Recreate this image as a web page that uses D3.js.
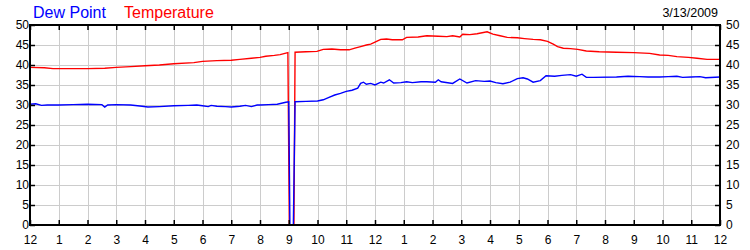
<!DOCTYPE html>
<html>
<head>
<meta charset="utf-8">
<script src="https://cdn.jsdelivr.net/npm/d3@7"></script>
<style>
  body { margin: 0; background: #fff; }
  text { font-family: Arial, "Liberation Sans", sans-serif; }
</style>
</head>
<body>
<div class="chart-container"></div>
<script>
//! DATA (hours after midnight, degrees F)
const tempHours = [0, 0.5, 0.8, 1, 2, 2.6, 3, 3.5, 4, 4.5, 5, 5.7, 6, 6.5, 7, 7.3, 7.7, 8, 8.2, 8.5, 8.7, 8.97,
  9.02, 9.18, 9.22, 9.6, 9.98, 10.2, 10.5, 10.8, 11.1, 11.3, 11.5, 11.7, 11.85, 12, 12.2, 12.4, 12.6, 12.95,
  13.1, 13.5, 13.8, 14.2, 14.5, 14.7, 14.95, 15.05, 15.3, 15.55, 15.9, 16.1, 16.35, 16.6, 16.95, 17.2, 17.5,
  17.75, 18, 18.2, 18.35, 18.55, 18.8, 19.05, 19.35, 19.8, 20.4, 21, 21.55, 21.9, 22.2, 22.5, 22.9, 23.2, 23.55, 24]
const tempValues = [39.4, 39.3, 39.1, 39.1, 39.1, 39.2, 39.4, 39.6, 39.8, 40.0, 40.3, 40.6, 40.9, 41.1, 41.2, 41.4, 41.7, 41.9, 42.2, 42.4, 42.6, 43.1,
  0, 0, 43.2, 43.3, 43.4, 43.9, 44.0, 43.8, 43.8, 44.2, 44.6, 45.0, 45.2, 45.7, 46.4, 46.5, 46.3, 46.3,
  46.9, 47.0, 47.3, 47.2, 47.1, 47.3, 47.0, 47.7, 47.6, 47.8, 48.3, 47.7, 47.3, 46.9, 46.8, 46.6, 46.4,
  46.3, 45.9, 45.2, 44.6, 44.2, 44.1, 43.9, 43.5, 43.3, 43.2, 43.1, 42.9, 42.5, 42.4, 42.1, 41.9, 41.7, 41.4, 41.4]

const dewHours = [0, 0.2, 0.4, 0.6, 1, 1.5, 2, 2.5, 2.6, 2.7, 3, 3.5, 3.9, 4.1, 4.5, 5, 5.5, 5.8, 6, 6.2, 6.3, 6.5,
  6.8, 7, 7.3, 7.5, 7.7, 7.9, 8, 8.3, 8.6, 8.9, 9.0, 9.04, 9.16, 9.22, 9.6, 10, 10.2, 10.4, 10.6, 10.8, 11,
  11.2, 11.4, 11.5, 11.6, 11.7, 11.85, 12, 12.2, 12.3, 12.5, 12.65, 12.9, 13.1, 13.3, 13.6, 13.8, 14.1, 14.2,
  14.3, 14.7, 14.95, 15.2, 15.5, 15.8, 16, 16.2, 16.45, 16.7, 16.95, 17.15, 17.3, 17.5, 17.75, 17.95, 18.25,
  18.5, 18.8, 19, 19.2, 19.35, 19.6, 20.4, 20.8, 21.2, 21.5, 21.9, 22.2, 22.5, 22.7, 23, 23.3, 23.5, 24]
const dewValues = [30.2, 30.3, 29.9, 30.0, 30.0, 30.1, 30.2, 30.1, 29.5, 30.0, 30.1, 30.0, 29.7, 29.5, 29.6, 29.8, 29.9, 30.0, 29.8, 29.6, 29.9, 29.7,
  29.6, 29.5, 29.7, 29.9, 29.6, 30.0, 30.0, 30.1, 30.2, 30.7, 30.8, 0, 0, 30.8, 30.9, 31.0, 31.3, 31.9, 32.5, 32.9, 33.4,
  33.7, 34.2, 35.4, 35.7, 35.2, 35.4, 35.0, 35.7, 35.5, 36.3, 35.5, 35.6, 35.8, 35.6, 35.8, 35.8, 35.7, 36.3,
  35.8, 35.4, 36.5, 35.5, 36.1, 35.9, 36.0, 35.6, 35.3, 35.7, 36.6, 36.8, 36.5, 35.7, 36.1, 37.3, 37.2,
  37.4, 37.6, 37.2, 37.7, 36.9, 36.9, 37.0, 37.2, 37.1, 37.0, 37.0, 37.1, 37.2, 36.9, 37.0, 37.1, 36.8, 37.0]

const hourTicks = d3.range(0, 25)
const valueTicks = d3.range(0, 51, 5)
const hourLabel = h => String(((h + 11) % 12) + 1)

//! CONSTS
const width = 750
const height = 250
const plotLeft = 30, plotRight = 720, plotTop = 25, plotBottom = 225

//! SVG
const svg =
  d3.select('.chart-container')
    .append('svg')
    .attr('width', width)
    .attr('height', height)

//! SCALES
const xScale = d3.scaleLinear().domain([0, 24]).range([plotLeft, plotRight])
const yScale = d3.scaleLinear().domain([0, 50]).range([plotBottom, plotTop])

//! GRID
const grid = svg.append('g').attr('stroke', '#cccccc').attr('stroke-width', 1)
grid.selectAll('.vgrid')
  .data(hourTicks.slice(1, -1))
  .enter().append('line')
  .attr('x1', d => Math.round(xScale(d)) + 0.5).attr('x2', d => Math.round(xScale(d)) + 0.5)
  .attr('y1', plotTop).attr('y2', plotBottom)
grid.selectAll('.hgrid')
  .data(valueTicks.slice(1, -1))
  .enter().append('line')
  .attr('y1', d => yScale(d) + 0.5).attr('y2', d => yScale(d) + 0.5)
  .attr('x1', plotLeft).attr('x2', plotRight)

//! LINES
const line = (hours) => d3.line()
  .x((d, i) => xScale(hours[i]))
  .y(d => yScale(d))

svg.append('path')
  .datum(tempValues)
  .attr('fill', 'none')
  .attr('stroke', '#ff0000')
  .attr('stroke-width', 1.4)
  .attr('d', line(tempHours))

svg.append('path')
  .datum(dewValues)
  .attr('fill', 'none')
  .attr('stroke', '#0000ff')
  .attr('stroke-width', 1.4)
  .attr('d', line(dewHours))

//! AXES
const styleAxis = g => {
  g.select('.domain').remove()
  g.selectAll('line').attr('stroke', '#000').attr('stroke-width', 1.5)
  g.selectAll('text').attr('font-size', 12).attr('fill', '#000')
    .attr('font-family', 'Arial, "Liberation Sans", sans-serif')
}

svg.append('g')
  .attr('transform', `translate(0,${plotBottom})`)
  .call(d3.axisBottom(xScale).tickValues(hourTicks).tickFormat(hourLabel).tickSize(-5).tickPadding(10))
  .call(styleAxis)

svg.append('g')
  .attr('transform', `translate(0,${plotTop})`)
  .call(d3.axisTop(xScale).tickValues(hourTicks).tickFormat('').tickSize(-5))
  .call(styleAxis)

svg.append('g')
  .attr('transform', `translate(${plotLeft},0)`)
  .call(d3.axisLeft(yScale).tickValues(valueTicks).tickSize(-5).tickPadding(1))
  .call(styleAxis)

svg.append('g')
  .attr('transform', `translate(${plotRight},0)`)
  .call(d3.axisRight(yScale).tickValues(valueTicks).tickSize(-5).tickPadding(6))
  .call(styleAxis)

//! FRAME
svg.append('rect')
  .attr('x', plotLeft).attr('y', plotTop)
  .attr('width', plotRight - plotLeft).attr('height', plotBottom - plotTop)
  .attr('fill', 'none')
  .attr('stroke', '#000')
  .attr('stroke-width', 2)

//! LEGEND
svg.append('text').attr('x', 33).attr('y', 17.5)
  .attr('font-size', 16).attr('fill', '#0000ff').text('Dew Point')
svg.append('text').attr('x', 124).attr('y', 17.5)
  .attr('font-size', 16).attr('fill', '#ff0000').text('Temperature')
svg.append('text').attr('x', 718).attr('y', 17)
  .attr('font-size', 12.5).attr('fill', '#000').attr('text-anchor', 'end').text('3/13/2009')
</script>
</body>
</html>
